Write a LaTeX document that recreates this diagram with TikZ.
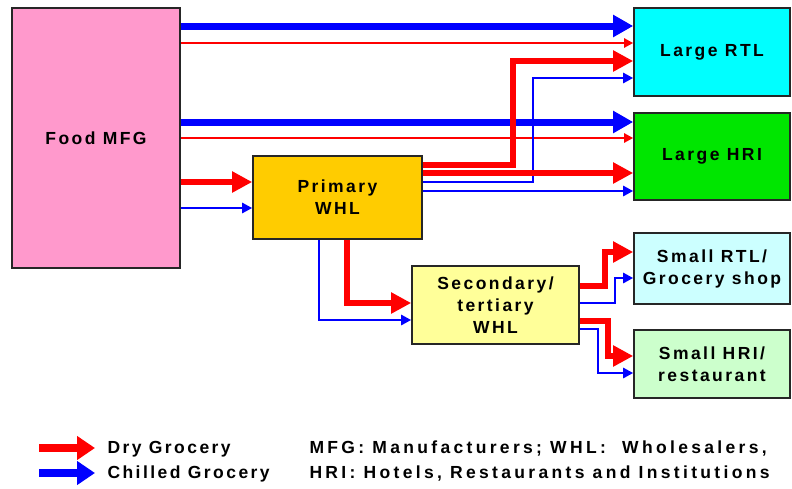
\documentclass[tikz,border=0pt]{standalone}
\usepackage{fontspec}
\setmainfont{Liberation Sans}[LetterSpace=14]
\usetikzlibrary{arrows.meta, positioning}
\definecolor{mfgpink}{RGB}{255,153,204}
\definecolor{rtlcyan}{RGB}{0,255,255}
\definecolor{hrigreen}{RGB}{0,230,0}
\definecolor{srtlcyan}{RGB}{204,255,255}
\definecolor{shrigreen}{RGB}{204,255,204}
\definecolor{whlgold}{RGB}{255,204,0}
\definecolor{whlyellow}{RGB}{255,255,153}

\tikzset{
  box/.style={draw=black!85, line width=1.6pt, align=center, inner sep=2pt,
    font=\bfseries\fontsize{17.5}{22}\selectfont},
  dry/.style={red, line width=6.5pt, -{Triangle[length=20pt,width=20pt]}},
  drythin/.style={red, line width=2.4pt, -{Triangle[length=9pt,width=9pt]}},
  chilled/.style={blue, line width=7pt, -{Triangle[length=20pt,width=21pt]}},
  chilledthin/.style={blue, line width=2.6pt, -{Triangle[length=10pt,width=10pt]}},
  legdry/.style={red, line width=8pt, -{Triangle[length=18pt,width=23pt]}},
  legchilled/.style={blue, line width=8pt, -{Triangle[length=18pt,width=23pt]}},
  legtext/.style={anchor=west, align=left, font=\bfseries\fontsize{17.5}{25}\selectfont},
}

\begin{document}
\begin{tikzpicture}[x=1pt, y=-1pt]
  \useasboundingbox (0,0) rectangle (792,488);

  % Boxes
  \node[box, fill=mfgpink, minimum width=168, minimum height=260] (mfg) at (96,138) {Food MFG};
  \node[box, fill=rtlcyan, minimum width=156, minimum height=88] (lrtl) at (712,52) {Large RTL};
  \node[box, fill=hrigreen, minimum width=156, minimum height=87] (lhri) at (712,156.5) {Large HRI};
  \node[box, fill=srtlcyan, minimum width=156, minimum height=71] (srtl) at (712,268.5) {Small RTL/\\Grocery shop};
  \node[box, fill=shrigreen, minimum width=156, minimum height=68] (shri) at (712,364) {Small HRI/\\restaurant};
  \node[box, fill=whlgold, minimum width=169, minimum height=83] (pwhl) at (337.5,197.5) {Primary\\WHL};
  \node[box, fill=whlyellow, minimum width=167, minimum height=78] (swhl) at (495.5,305) {Secondary/\\tertiary\\WHL};

  % Direct flows from manufacturers
  \draw[chilled] (mfg.east |- 0,26) -- (lrtl.west |- 0,26);
  \draw[drythin] (mfg.east |- 0,43) -- (lrtl.west |- 0,43);
  \draw[chilled] (mfg.east |- 0,122) -- (lhri.west |- 0,122);
  \draw[drythin] (mfg.east |- 0,138) -- (lhri.west |- 0,138);
  \draw[dry] (mfg.east |- 0,182) -- (pwhl.west |- 0,182);
  \draw[chilledthin] (mfg.east |- 0,208) -- (pwhl.west |- 0,208);

  % Flows from primary wholesalers
  \draw[dry] (pwhl.east |- 0,165) -| (513,61) -- (lrtl.west |- 0,61);
  \draw[chilledthin] (pwhl.east |- 0,182) -| (533,78) -- (lrtl.west |- 0,78);
  \draw[dry] (pwhl.east |- 0,173) -- (lhri.west |- 0,173);
  \draw[chilledthin] (pwhl.east |- 0,191) -- (lhri.west |- 0,191);
  \draw[dry] (pwhl.south -| 347,0) |- (swhl.west |- 0,303);
  \draw[chilledthin] (pwhl.south -| 319,0) |- (swhl.west |- 0,320);

  % Flows from secondary wholesalers
  \draw[dry] (swhl.east |- 0,286) -| (605,252) -- (srtl.west |- 0,252);
  \draw[chilledthin] (swhl.east |- 0,303) -| (615,278) -- (srtl.west |- 0,278);
  \draw[dry] (swhl.east |- 0,321) -| (608,356) -- (shri.west |- 0,356);
  \draw[chilledthin] (swhl.east |- 0,329) -| (598,373) -- (shri.west |- 0,373);

  % Legend
  \coordinate (drystart) at (39,448);
  \coordinate (dryend) at (95,448);
  \coordinate (chilledstart) at (39,473);
  \coordinate (chilledend) at (95,473);
  \draw[legdry] (drystart) -- (dryend);
  \draw[legchilled] (chilledstart) -- (chilledend);
  \node[legtext] (drytext) at (104,449) {Dry Grocery};
  \node[legtext] (chilledtext) at (104,474) {Chilled Grocery};
  \node[legtext, font=\bfseries\fontsize{17.5}{25}\selectfont\addfontfeature{LetterSpace=19}] (notes) at (306,461.5)
    {MFG: Manufacturers; WHL:\ \ Wholesalers,\\HRI: Hotels, Restaurants and Institutions};
\end{tikzpicture}
\end{document}
